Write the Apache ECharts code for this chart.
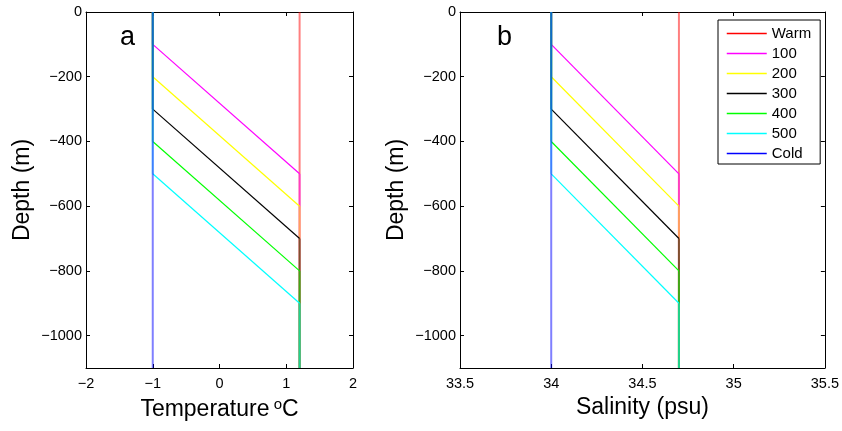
<!DOCTYPE html>
<html>
<head>
<meta charset="utf-8">
<script src="https://cdn.jsdelivr.net/npm/echarts@6/dist/echarts.min.js"></script>
<style>html,body{margin:0;padding:0;background:#fff;}#chart{width:842px;height:431px;}</style>
</head>
<body>
<div id="chart"></div>
<script>
// ---- data ----
const profileNames = ['Warm', '100', '200', '300', '400', '500', 'Cold'];
const profileColors = ['#ff0000', '#ff00ff', '#ffff00', '#000000', '#00ff00', '#00ffff', '#0000ff'];
const mixNames = ['100', '200', '300', '400', '500'];
const mixStartDepth = [-100, -200, -300, -400, -500];   // depth where profile leaves the cold value
const mixEndDepth = [-500, -600, -700, -800, -900];     // depth where it reaches the warm value
const surfaceDepth = 0;
const bottomDepth = -1100;
const tempCold = -1, tempWarm = 1.2;
const salCold = 34, salWarm = 34.7;
const depthTicks = [0, -200, -400, -600, -800, -1000];
const tempRange = [-2, 2], tempInterval = 1;
const salRange = [33.5, 35.5], salInterval = 0.5;

// ---- build ----
const FONT = 'Liberation Sans, Arial, Helvetica, sans-serif';
const colorOf = n => profileColors[profileNames.indexOf(n)];
const vertStyle = c => ({ color: c, width: 2, opacity: 0.5 });
const diagStyle = c => ({ color: c, width: 1.2, opacity: 1 });

function panelSeries(xi, yi, cold, warm) {
  const s = [];
  const mk = (name, data, ls) => ({
    type: 'line', name, data, xAxisIndex: xi, yAxisIndex: yi,
    symbol: 'none', silent: true, lineStyle: ls, itemStyle: { color: ls.color },
    animation: false
  });
  s.push(mk('Warm', [[warm, surfaceDepth], [warm, bottomDepth]], vertStyle(colorOf('Warm'))));
  mixNames.forEach((n, i) => {
    const c = colorOf(n);
    s.push(mk(n, [[cold, mixStartDepth[i]], [warm, mixEndDepth[i]]], diagStyle(c)));
    s.push(mk(n, [[cold, surfaceDepth], [cold, mixStartDepth[i]]], vertStyle(c)));
    s.push(mk(n, [[warm, mixEndDepth[i]], [warm, bottomDepth]], vertStyle(c)));
  });
  s.push(mk('Cold', [[cold, surfaceDepth], [cold, bottomDepth]], vertStyle(colorOf('Cold'))));
  return s;
}

const minus = v => String(v).replace('-', '\u2212');
const labelStyle = { color: '#000', fontFamily: FONT, fontSize: 14.5 };

function xAxes(gi, range, interval, name, nameGap, rich) {
  return [
    {
      type: 'value', gridIndex: gi, position: 'bottom', min: range[0], max: range[1], interval,
      axisLine: { onZero: false, lineStyle: { color: '#000', width: 1 } },
      axisTick: { inside: true, length: 4, lineStyle: { color: '#000' } },
      axisLabel: Object.assign({ margin: 8, formatter: minus }, labelStyle),
      splitLine: { show: false },
      name, nameLocation: 'middle', nameGap,
      nameTextStyle: { color: '#000', fontFamily: FONT, fontSize: 23, rich }
    },
    {
      type: 'value', gridIndex: gi, position: 'top', min: range[0], max: range[1], interval,
      axisLine: { onZero: false, lineStyle: { color: '#000', width: 1 } },
      axisTick: { inside: true, length: 4, lineStyle: { color: '#000' } },
      axisLabel: { show: false }, splitLine: { show: false }
    }
  ];
}
function yAxes(gi) {
  return [
    {
      type: 'value', gridIndex: gi, position: 'left', min: bottomDepth, max: surfaceDepth, interval: 100,
      axisLine: { onZero: false, lineStyle: { color: '#000', width: 1 } },
      axisTick: { inside: true, length: 4, customValues: depthTicks, lineStyle: { color: '#000' } },
      axisLabel: Object.assign({ margin: 4, customValues: depthTicks, formatter: minus }, labelStyle),
      splitLine: { show: false },
      name: 'Depth (m)', nameLocation: 'middle', nameGap: 52,
      nameTextStyle: { color: '#000', fontFamily: FONT, fontSize: 23 }
    },
    {
      type: 'value', gridIndex: gi, position: 'right', min: bottomDepth, max: surfaceDepth, interval: 100,
      axisLine: { onZero: false, lineStyle: { color: '#000', width: 1 } },
      axisTick: { inside: true, length: 4, customValues: depthTicks, lineStyle: { color: '#000' } },
      axisLabel: { show: false }, splitLine: { show: false }
    }
  ];
}

const tempRich = { s: { fontSize: 15, lineHeight: 15, padding: [0, 0, 10, 0], color: '#000', fontFamily: FONT } };

const option = {
  backgroundColor: '#fff',
  animation: false,
  grid: [
    { left: 86, top: 12, width: 267, height: 356 },
    { left: 460, top: 12, width: 365, height: 356 }
  ],
  xAxis: [].concat(
    xAxes(0, tempRange, tempInterval, 'Temperature{s| o}C', 30, tempRich),
    xAxes(1, salRange, salInterval, 'Salinity (psu)', 26)
  ),
  yAxis: [].concat(yAxes(0), yAxes(1)),
  legend: {
    show: true,
    orient: 'vertical', left: 718, top: 20,
    itemWidth: 40, itemHeight: 14, itemGap: 5,
    padding: [6, 9, 3, 8],
    borderColor: '#000', borderWidth: 1, backgroundColor: '#fff',
    textStyle: { color: '#000', fontFamily: FONT, fontSize: 15 },
    data: profileNames.map(n => ({
      name: n,
      itemStyle: { color: colorOf(n), opacity: 0, borderWidth: 0 },
      lineStyle: { color: colorOf(n), width: 1.5, opacity: 1 }
    }))
  },
  graphic: [
    { type: 'text', left: 120, top: 24, style: { text: 'a', fill: '#000', font: '27px ' + FONT } },
    { type: 'text', left: 497, top: 24, style: { text: 'b', fill: '#000', font: '27px ' + FONT } }
  ],
  series: [].concat(panelSeries(0, 0, tempCold, tempWarm), panelSeries(2, 2, salCold, salWarm))
};

const chart = echarts.init(document.getElementById('chart'), null, { renderer: 'canvas' });
chart.setOption(option);
</script>
</body>
</html>
